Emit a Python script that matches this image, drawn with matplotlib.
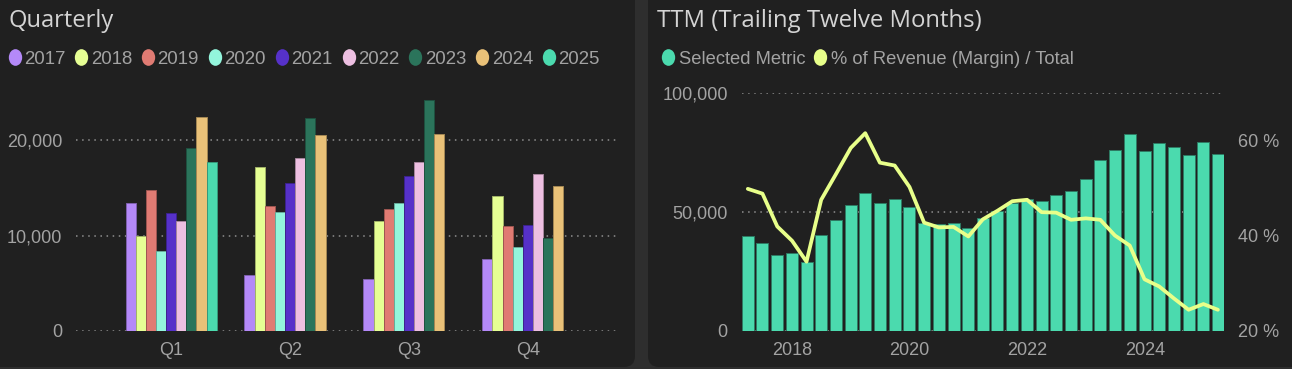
import numpy as np
import pandas as pd
import matplotlib
matplotlib.use("Agg")
import matplotlib.pyplot as plt
import matplotlib.dates as mdates
from matplotlib.patches import FancyBboxPatch
from matplotlib.lines import Line2D
from matplotlib.path import Path
from matplotlib.ticker import FuncFormatter, FixedLocator

# ---------------- data ----------------
quarters = ["Q1", "Q2", "Q3", "Q4"]
years = ["2017", "2018", "2019", "2020", "2021", "2022", "2023", "2024", "2025"]
sales_2017 = [13400, 5800, 5400, 7500]
sales_2018 = [9900, 17200, 11500, 14200]
sales_2019 = [14800, 13100, 12800, 11000]
sales_2020 = [8400, 12500, 13400, 8800]
sales_2021 = [12400, 15500, 16300, 11100]
sales_2022 = [11500, 18100, 17700, 16500]
sales_2023 = [19200, 22300, 24200, 9700]
sales_2024 = [22500, 20600, 20700, 15200]
sales_2025 = [17700, np.nan, np.nan, np.nan]
year_colors = ["#B489F8", "#E6FF94", "#E07B73", "#93F5DC", "#5631C9",
               "#EDBFE1", "#2B745B", "#E9C178", "#4BDAAE"]

ttm_dates = pd.date_range("2017-03-31", periods=33, freq="QE")
ttm_values = [39700, 36800, 31600, 32450, 28800, 40300, 46350, 52950, 57870,
              53650, 55200, 51830, 45370, 44800, 45370, 43260, 47330, 50420,
              53510, 55480, 54640, 57160, 58570, 63900, 71770, 75980, 82590,
              75700, 79070, 77250, 73740, 79350, 74440]
margin_pct = [49.8, 48.8, 41.9, 38.9, 34.5, 47.5, 52.9, 58.4, 61.5, 55.3, 54.7,
              50.2, 42.7, 41.7, 41.8, 39.8, 43.4, 45.2, 47.2, 47.5, 44.9, 44.8,
              43.3, 43.6, 43.3, 40.0, 37.9, 30.8, 29.3, 26.8, 24.4, 25.6, 24.4]

quarterly = {y: v for y, v in zip(years, [sales_2017, sales_2018, sales_2019, sales_2020,
                                          sales_2021, sales_2022, sales_2023, sales_2024,
                                          sales_2025])}

# ---------------- style ----------------
W, H = 1292, 369
BG = "#2e2e2e"
CARD = "#202020"
TXT = "#a3a3a3"
TITLE = "#d4d4d4"
GRID = "#8f8f8f"
TICKFONT = "Liberation Sans"
TITLEFONT = "Open Sans"

fig = plt.figure(figsize=(W / 100, H / 100), dpi=100)
fig.patch.set_facecolor(BG)

for x0, x1 in [(-20, 635), (648, 1312)]:
    fig.patches.append(FancyBboxPatch((x0, 2), x1 - x0, 380,
                                      boxstyle="round,pad=0,rounding_size=11",
                                      transform=None, facecolor=CARD,
                                      edgecolor="none", zorder=-10))

def px_axes(x0, x1, ytop, ybot):
    return fig.add_axes([x0 / W, (H - ybot) / H, (x1 - x0) / W, (ybot - ytop) / H])

def darker(c, f=0.7):
    r, g, b = matplotlib.colors.to_rgb(c)
    return (r * f, g * f, b * f)

circ = Path.unit_circle()
ell = Path(circ.vertices * np.array([0.8, 1.0]), circ.codes)

def style_axes(ax):
    ax.set_facecolor("none")
    for s in ax.spines.values():
        s.set_visible(False)
    ax.tick_params(length=0, colors=TXT, labelsize=13)
    for lab in ax.get_xticklabels() + ax.get_yticklabels():
        lab.set_fontfamily(TICKFONT)

grid_kw = dict(color=GRID, linewidth=1.1, linestyle=(0, (1, 3.0)))

# ---------------- left: Quarterly ----------------
ax1 = px_axes(76, 618, 83.2, 330.7)
x = np.arange(len(quarters))
nb = len(years)
bw = 0.0852
for i, y in enumerate(years):
    offs = (i - (nb - 1) / 2) * bw
    ax1.bar(x + offs, quarterly[y], width=bw, color=year_colors[i],
            edgecolor=darker(year_colors[i]), linewidth=0.7, zorder=3)
ax1.set_xlim(-0.8, 3.757)
ax1.set_ylim(0, 26000)
ax1.yaxis.set_major_locator(FixedLocator([0, 10000, 20000]))
ax1.yaxis.set_major_formatter(FuncFormatter(lambda v, p: f"{v:,.0f}"))
ax1.set_xticks(x)
ax1.set_xticklabels(quarters)
ax1.set_axisbelow(True)
ax1.grid(axis="y", **grid_kw)
style_axes(ax1)
ax1.tick_params(axis="y", pad=10)
ax1.tick_params(axis="x", pad=8)

fig.text(8 / W, 1 - 27 / H, "Quarterly", fontsize=17, color=TITLE,
         fontfamily=TITLEFONT, va="baseline", ha="left")
h1 = [Line2D([], [], marker=ell, linestyle="", markersize=12,
             markerfacecolor=c, markeredgecolor="none") for c in year_colors]
fig.legend(h1, years, loc="center left", bbox_to_anchor=(8 / W, 1 - 59 / H),
           ncol=9, frameon=False, handlelength=0.7, handletextpad=0.15,
           columnspacing=0.52, borderpad=0, borderaxespad=0,
           prop={"family": TICKFONT, "size": 13.4}, labelcolor=TXT)

# ---------------- right: TTM ----------------
ax2 = px_axes(741.7, 1224, 92.7, 330.7)
ax2.bar(ttm_dates, ttm_values, width=74.5, color="#4BDAAE",
        edgecolor="#2E7A63", linewidth=0.7, zorder=3)
ax2.set_xlim(ttm_dates[0] - pd.Timedelta(days=38), ttm_dates[-1] + pd.Timedelta(days=38))
ax2.set_ylim(0, 100000)
ax2.yaxis.set_major_locator(FixedLocator([0, 50000, 100000]))
ax2.yaxis.set_major_formatter(FuncFormatter(lambda v, p: f"{v:,.0f}"))
ax2.xaxis.set_major_locator(mdates.YearLocator(2))
ax2.xaxis.set_major_formatter(mdates.DateFormatter("%Y"))
ax2.set_axisbelow(True)
ax2.grid(axis="y", **grid_kw)
style_axes(ax2)
ax2.tick_params(axis="y", pad=10)
ax2.tick_params(axis="x", pad=8)

ax3 = ax2.twinx()
ax3.plot(ttm_dates, margin_pct, color="#E8FF8A", linewidth=2.7,
         solid_joinstyle="round", solid_capstyle="round", zorder=5)
ax3.set_ylim(20, 70)
ax3.yaxis.set_major_locator(FixedLocator([20, 40, 60]))
ax3.yaxis.set_major_formatter(FuncFormatter(lambda v, p: f"{v:.0f} %"))
style_axes(ax3)
ax3.tick_params(axis="y", pad=10)

fig.text(657 / W, 1 - 27 / H, "TTM (Trailing Twelve Months)", fontsize=17.2,
         color=TITLE, fontfamily=TITLEFONT, va="baseline", ha="left")
h2 = [Line2D([], [], marker=ell, linestyle="", markersize=12,
             markerfacecolor=c, markeredgecolor="none") for c in ["#4BDAAE", "#E8FF8A"]]
fig.legend(h2, ["Selected Metric", "% of Revenue (Margin) / Total"], loc="center left",
           bbox_to_anchor=(662 / W, 1 - 59 / H), ncol=2, frameon=False,
           handlelength=0.7, handletextpad=0.25, columnspacing=0.42,
           borderpad=0, borderaxespad=0,
           prop={"family": TICKFONT, "size": 13.2}, labelcolor=TXT)

fig.savefig("out.png", dpi=100, facecolor=BG)
